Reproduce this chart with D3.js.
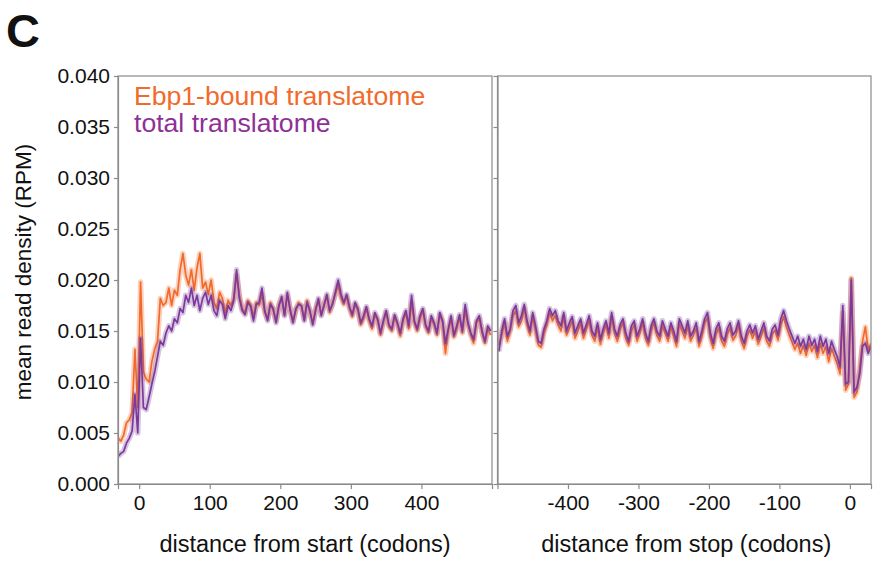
<!DOCTYPE html>
<html>
<head>
<meta charset="utf-8">
<script src="https://cdn.jsdelivr.net/npm/d3@7"></script>
<style>
  html, body { margin: 0; padding: 0; background: #fff; }
  svg { display: block; font-family: "Liberation Sans", Arial, Helvetica, sans-serif; }
</style>
</head>
<body>
<svg id="chart" width="875" height="561"></svg>
<script>
// Metagene profiles: mean ribosome read density around start and stop codons.
// Positions are sampled every 4 codons from the first codon of each window.
const codonStep = 4;
const startWindowFirst = -30;   // codons relative to start
const stopWindowFirst = -498;   // codons relative to stop

const yTicks = [0, 0.005, 0.010, 0.015, 0.020, 0.025, 0.030, 0.035, 0.040];
const startTicks = [0, 100, 200, 300, 400];
const stopTicks = [-400, -300, -200, -100, 0];

const seriesNames = ["Ebp1-bound translatome", "total translatome"];

// Ebp1-bound translatome, start window
const ebp1Start = [
  0.0045, 0.0042, 0.0048, 0.0060, 0.0063, 0.0070, 0.0132, 0.0075, 0.0198, 0.0110,
  0.0103, 0.0100, 0.0120, 0.0132, 0.0140, 0.0182, 0.0175, 0.0178, 0.0192, 0.0175,
  0.0190, 0.0185, 0.0210, 0.0226, 0.0205, 0.0195, 0.0210, 0.0190, 0.0212, 0.0226,
  0.0192, 0.0198, 0.0186, 0.0200, 0.0178, 0.0172, 0.0188, 0.0182, 0.0168, 0.0180,
  0.0175, 0.0182, 0.0205, 0.0185, 0.0172, 0.0168, 0.0180, 0.0176, 0.0164, 0.0178,
  0.0175, 0.0186, 0.0168, 0.0162, 0.0178, 0.0170, 0.0160, 0.0176, 0.0182, 0.0166,
  0.0185, 0.0172, 0.0160, 0.0170, 0.0178, 0.0174, 0.0162, 0.0180, 0.0168, 0.0158,
  0.0172, 0.0180, 0.0166, 0.0176, 0.0184, 0.0168, 0.0178, 0.0186, 0.0195, 0.0183,
  0.0176, 0.0184, 0.0172, 0.0164, 0.0176, 0.0170, 0.0156, 0.0162, 0.0172, 0.0160,
  0.0152, 0.0166, 0.0160, 0.0146, 0.0158, 0.0168, 0.0154, 0.0150, 0.0164, 0.0156,
  0.0145, 0.0160, 0.0168, 0.0152, 0.0178, 0.0158, 0.0150, 0.0162, 0.0170, 0.0154,
  0.0148, 0.0162, 0.0156, 0.0146, 0.0166, 0.0158, 0.0128, 0.0150, 0.0162, 0.0144,
  0.0152, 0.0164, 0.0148, 0.0170, 0.0156, 0.0146, 0.0138, 0.0158, 0.0162, 0.0148,
  0.0138, 0.0152, 0.0146
];

// total translatome, start window
const totalStart = [
  0.0027, 0.0030, 0.0032, 0.0040, 0.0045, 0.0052, 0.0088, 0.0050, 0.0143, 0.0075,
  0.0073, 0.0085, 0.0098, 0.0110, 0.0125, 0.0140, 0.0136, 0.0148, 0.0155, 0.0150,
  0.0162, 0.0158, 0.0172, 0.0168, 0.0185, 0.0178, 0.0192, 0.0175, 0.0185, 0.0170,
  0.0182, 0.0188, 0.0176, 0.0185, 0.0170, 0.0165, 0.0180, 0.0176, 0.0162, 0.0175,
  0.0170, 0.0180, 0.0210, 0.0182, 0.0170, 0.0166, 0.0178, 0.0174, 0.0160, 0.0176,
  0.0178, 0.0192, 0.0170, 0.0160, 0.0176, 0.0172, 0.0158, 0.0174, 0.0184, 0.0165,
  0.0188, 0.0170, 0.0158, 0.0172, 0.0176, 0.0175, 0.0160, 0.0178, 0.0170, 0.0156,
  0.0170, 0.0182, 0.0165, 0.0175, 0.0186, 0.0170, 0.0176, 0.0188, 0.0200, 0.0186,
  0.0178, 0.0186, 0.0174, 0.0166, 0.0178, 0.0172, 0.0158, 0.0165, 0.0174, 0.0162,
  0.0155, 0.0168, 0.0162, 0.0148, 0.0160, 0.0170, 0.0156, 0.0152, 0.0166, 0.0158,
  0.0148, 0.0162, 0.0170, 0.0155, 0.0185, 0.0160, 0.0152, 0.0165, 0.0172, 0.0156,
  0.0150, 0.0165, 0.0158, 0.0148, 0.0168, 0.0160, 0.0138, 0.0152, 0.0165, 0.0146,
  0.0155, 0.0166, 0.0150, 0.0176, 0.0158, 0.0148, 0.0142, 0.0160, 0.0165, 0.0150,
  0.0140, 0.0155, 0.0150
];

// Ebp1-bound translatome, stop window
const ebp1Stop = [
  0.0136, 0.0146, 0.0158, 0.0140, 0.0150, 0.0165, 0.0170, 0.0154, 0.0160, 0.0172,
  0.0156, 0.0146, 0.0164, 0.0150, 0.0136, 0.0134, 0.0148, 0.0156, 0.0168, 0.0160,
  0.0165, 0.0156, 0.0150, 0.0164, 0.0146, 0.0153, 0.0160, 0.0143, 0.0150, 0.0158,
  0.0143, 0.0152, 0.0160, 0.0146, 0.0140, 0.0154, 0.0137, 0.0148, 0.0156, 0.0143,
  0.0163, 0.0148, 0.0140, 0.0152, 0.0158, 0.0143, 0.0136, 0.0150, 0.0156, 0.0140,
  0.0148, 0.0158, 0.0143, 0.0136, 0.0150, 0.0158, 0.0146, 0.0140, 0.0155, 0.0148,
  0.0140, 0.0154, 0.0145, 0.0135, 0.0157, 0.0150, 0.0143, 0.0155, 0.0140, 0.0146,
  0.0153, 0.0135, 0.0145, 0.0158, 0.0163, 0.0143, 0.0133, 0.0147, 0.0153, 0.0140,
  0.0135, 0.0147, 0.0153, 0.0141, 0.0145, 0.0156, 0.0140, 0.0133, 0.0145, 0.0151,
  0.0143, 0.0150, 0.0137, 0.0145, 0.0153, 0.0140, 0.0135, 0.0147, 0.0151, 0.0141,
  0.0156, 0.0164, 0.0154, 0.0146, 0.0139, 0.0132, 0.0138, 0.0128, 0.0136, 0.0126,
  0.0138, 0.0130, 0.0136, 0.0124, 0.0138, 0.0128, 0.0135, 0.0120, 0.0133, 0.0125,
  0.0118, 0.0108, 0.0168, 0.0092, 0.0098, 0.0202, 0.0085, 0.0090, 0.0112, 0.0140,
  0.0154, 0.0132, 0.0138
];

// total translatome, stop window
const totalStop = [
  0.0130, 0.0150, 0.0162, 0.0145, 0.0152, 0.0170, 0.0175, 0.0158, 0.0165, 0.0176,
  0.0160, 0.0150, 0.0168, 0.0155, 0.0140, 0.0138, 0.0152, 0.0160, 0.0172, 0.0165,
  0.0170, 0.0160, 0.0155, 0.0168, 0.0150, 0.0158, 0.0164, 0.0148, 0.0155, 0.0162,
  0.0148, 0.0156, 0.0165, 0.0150, 0.0145, 0.0158, 0.0142, 0.0152, 0.0160, 0.0148,
  0.0168, 0.0152, 0.0145, 0.0156, 0.0162, 0.0148, 0.0140, 0.0155, 0.0160, 0.0145,
  0.0152, 0.0162, 0.0148, 0.0140, 0.0155, 0.0162, 0.0150, 0.0145, 0.0160, 0.0152,
  0.0145, 0.0158, 0.0150, 0.0140, 0.0162, 0.0155, 0.0148, 0.0160, 0.0145, 0.0150,
  0.0158, 0.0140, 0.0150, 0.0162, 0.0168, 0.0148, 0.0138, 0.0152, 0.0158, 0.0145,
  0.0140, 0.0152, 0.0158, 0.0146, 0.0150, 0.0160, 0.0145, 0.0138, 0.0150, 0.0156,
  0.0148, 0.0155, 0.0142, 0.0150, 0.0158, 0.0145, 0.0140, 0.0152, 0.0156, 0.0146,
  0.0162, 0.0170, 0.0160, 0.0152, 0.0145, 0.0138, 0.0145, 0.0135, 0.0142, 0.0132,
  0.0145, 0.0136, 0.0142, 0.0130, 0.0145, 0.0135, 0.0142, 0.0128, 0.0140, 0.0132,
  0.0125, 0.0115, 0.0175, 0.0098, 0.0100, 0.0200, 0.0090, 0.0095, 0.0108, 0.0135,
  0.0138, 0.0128, 0.0135
];

// ---- layout ----
const svg = d3.select("#chart");
const plotTop = 76, plotBottom = 484;
const axisGrey = "#8a8a8a";
const colors = { ebp1: "#F26A2B", total: "#7B3A9B" };
const legendColors = { ebp1: "#F26A2B", total: "#8E3096" };

const y = d3.scaleLinear().domain([0, 0.04]).range([plotBottom, plotTop]);
const xStart = d3.scaleLinear().domain([-30, 500]).range([118, 492]);
const xStop = d3.scaleLinear().domain([-500, 30]).range([497.5, 871]);

function toPoints(values, first) {
  return values.map((v, i) => [first + i * codonStep, v]);
}

function drawPanel(x, ticks, ebp1, total, first, showYLabels, title) {
  const g = svg.append("g");
  const [x0, x1] = x.range();

  const clipId = "clip" + Math.round(x0);
  svg.append("clipPath").attr("id", clipId)
    .append("rect").attr("x", x0).attr("y", plotTop)
    .attr("width", x1 - x0).attr("height", plotBottom - plotTop);

  const line = d3.line().x(d => x(d[0])).y(d => y(d[1]));
  const plot = g.append("g").attr("clip-path", `url(#${clipId})`);

  [[ebp1, colors.ebp1], [total, colors.total]].forEach(([vals, c]) => {
    const pts = toPoints(vals, first);
    // soft band around each profile
    plot.append("path").attr("d", line(pts))
      .attr("fill", "none").attr("stroke", c)
      .attr("stroke-width", 5.5).attr("stroke-opacity", 0.3)
      .attr("stroke-linejoin", "round");
    plot.append("path").attr("d", line(pts))
      .attr("fill", "none").attr("stroke", c)
      .attr("stroke-width", 1.7)
      .attr("stroke-linejoin", "round");
  });

  // frame
  g.append("rect").attr("x", x0).attr("y", plotTop)
    .attr("width", x1 - x0).attr("height", plotBottom - plotTop)
    .attr("fill", "none").attr("stroke", axisGrey).attr("stroke-width", 1.2);

  // y axis
  const yAxis = d3.axisLeft(y).tickValues(yTicks).tickSize(4).tickSizeOuter(0)
    .tickFormat(showYLabels ? d3.format(".3f") : () => "");
  const ya = g.append("g").attr("transform", `translate(${x0},0)`).call(yAxis);

  // x axis
  const xAxis = d3.axisBottom(x).tickValues(ticks).tickSize(5).tickSizeOuter(5)
    .tickFormat(d => d < 0 ? "-" + Math.abs(d) : String(d));
  const xa = g.append("g").attr("transform", `translate(0,${plotBottom})`).call(xAxis);

  [ya, xa].forEach(a => {
    a.select(".domain").attr("stroke", axisGrey).attr("stroke-width", 1.2);
    a.selectAll(".tick line").attr("stroke", axisGrey).attr("stroke-width", 1.2);
    a.selectAll(".tick text").attr("fill", "#111").style("font-size", "21px")
      .style("font-family", "'Liberation Sans', Arial, sans-serif");
  });
  ya.selectAll(".tick text").attr("x", -8);
  xa.selectAll(".tick text").attr("y", 11);

  g.append("text").attr("x", (x0 + x1) / 2 + (showYLabels ? 0 : 2)).attr("y", 552)
    .attr("text-anchor", "middle").attr("fill", "#111")
    .style("font-size", "23.5px").text(title);
}

drawPanel(xStart, startTicks, ebp1Start, totalStart, startWindowFirst, true,
  "distance from start (codons)");
drawPanel(xStop, stopTicks, ebp1Stop, totalStop, stopWindowFirst, false,
  "distance from stop (codons)");

// y axis title
svg.append("text")
  .attr("transform", `translate(31,${(plotTop + plotBottom) / 2 - 8}) rotate(-90)`)
  .attr("text-anchor", "middle").attr("fill", "#111")
  .style("font-size", "22.5px").text("mean read density (RPM)");

// legend
svg.append("text").attr("x", 134).attr("y", 105)
  .attr("fill", legendColors.ebp1).style("font-size", "26.6px").text(seriesNames[0]);
svg.append("text").attr("x", 134).attr("y", 132)
  .attr("fill", legendColors.total).style("font-size", "26.6px").text(seriesNames[1]);

// panel letter
svg.append("text").attr("x", 6).attr("y", 47)
  .attr("fill", "#111").style("font-size", "47px").style("font-weight", "bold").text("C");
</script>
</body>
</html>
